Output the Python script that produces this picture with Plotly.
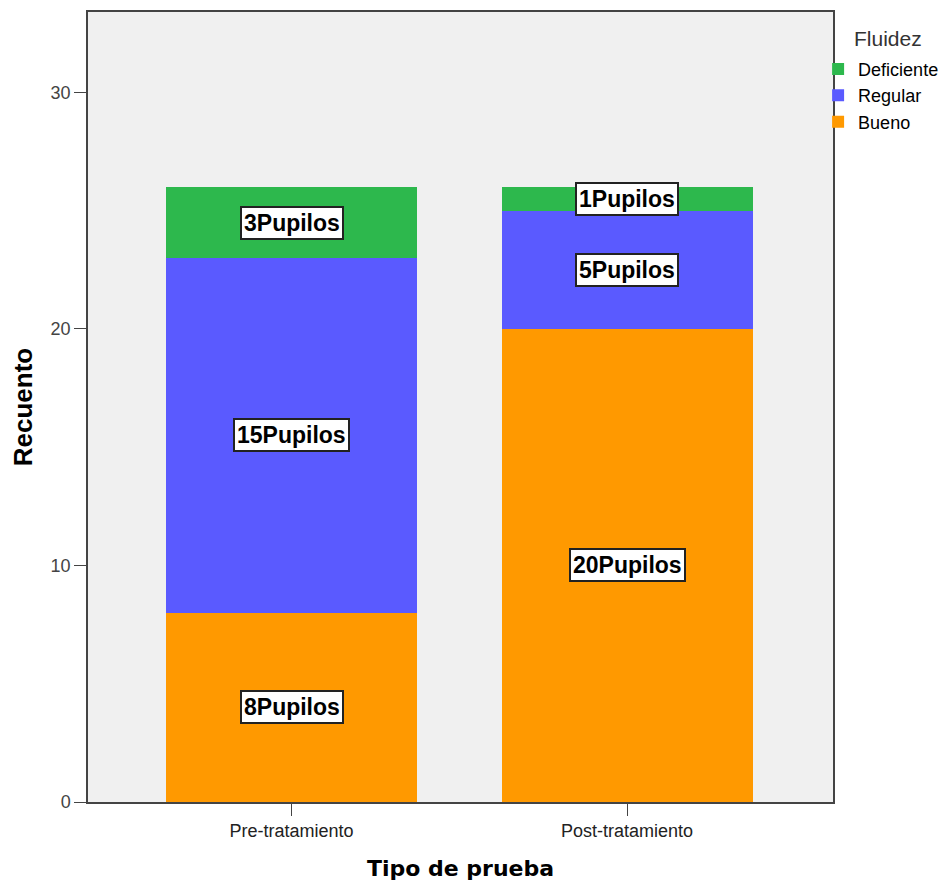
import plotly.graph_objects as go

# data
categories = ["Pre-tratamiento", "Post-tratamiento"]
bueno = [8, 20]
regular = [15, 5]
deficiente = [3, 1]
series_names = ["Bueno", "Regular", "Deficiente"]
series_values = [bueno, regular, deficiente]
colors = ["#FF9900", "#5A5AFF", "#2DB84D"]

fig = go.Figure()
for name, vals, col in zip(series_names, series_values, colors):
    fig.add_trace(go.Bar(
        x=categories, y=vals, name=name,
        marker=dict(color=col, line=dict(width=0)),
        width=0.748,
    ))

# labels in white boxes centred on each segment
for i, cat in enumerate(categories):
    base = 0
    for vals in series_values:
        v = vals[i]
        fig.add_annotation(
            x=cat, y=base + v / 2, text=f"<b>{v}Pupilos</b>",
            showarrow=False,
            font=dict(family="Liberation Sans, Arial", size=23, color="black"),
            bgcolor="white", bordercolor="#222", borderwidth=2, borderpad=2,
        )
        base += v

# legend title placed like the original
fig.add_annotation(
    text="Fluidez", xref="paper", yref="paper", x=1.025, y=0.967,
    xanchor="left", yanchor="middle", showarrow=False,
    font=dict(family="Liberation Sans, Arial", size=21, color="#333"),
)

tick_font = dict(family="Liberation Sans, Arial", size=18, color="#444")

fig.update_layout(
    barmode="stack",
    width=947, height=883,
    margin=dict(l=80, r=122, t=2, b=89),
    paper_bgcolor="white",
    plot_bgcolor="#F0F0F0",
    font=dict(family="Liberation Sans, Arial"),
    xaxis=dict(
        range=[-0.607, 1.614],
        showline=True, linecolor="#444", linewidth=1.5, mirror=True,
        ticks="outside", ticklen=12, tickcolor="#444",
        tickfont=dict(family="Liberation Sans, Arial", size=18, color="#222"),
        title=dict(text="<b>Tipo de prueba</b>",
                   font=dict(family="DejaVu Sans", size=22, color="black"), standoff=20),
    ),
    yaxis=dict(
        range=[0, 33.4],
        tickvals=[0, 10, 20, 30],
        showgrid=False, zeroline=False,
        showline=True, linecolor="#444", linewidth=1.5, mirror=True,
        ticks="outside", ticklen=12, tickcolor="#444",
        tickfont=tick_font,
        title=dict(text="<b>Recuento</b>",
                   font=dict(family="Liberation Sans, Arial", size=26, color="black"), standoff=15),
    ),
    legend=dict(
        traceorder="reversed",
        x=0.98, xanchor="left", y=0.951, yanchor="top",
        font=dict(family="Liberation Sans, Arial", size=18, color="black"),
        itemwidth=30, tracegroupgap=0,
        bgcolor="rgba(0,0,0,0)",
    ),
    showlegend=True,
)

fig.write_html("out.html")
